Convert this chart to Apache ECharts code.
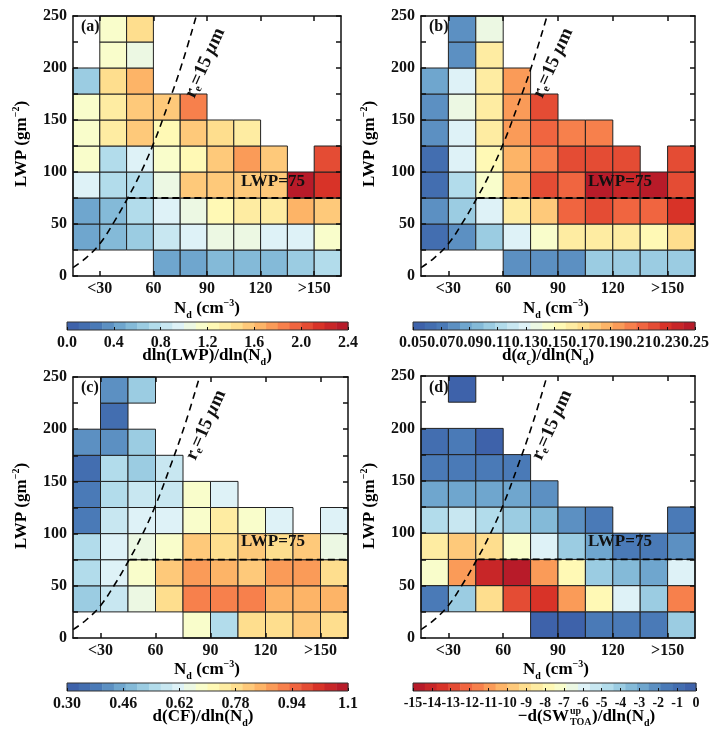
<!DOCTYPE html>
<html><head><meta charset="utf-8">
<script src="https://cdn.jsdelivr.net/npm/echarts@6/dist/echarts.min.js"></script>
<style>html,body{margin:0;padding:0;background:#fff}#chart{width:712px;height:732px}</style>
</head><body><div id="chart"></div>
<script>
// ---------- data ----------
const ndEdges = [15, 30, 45, 60, 75, 90, 105, 120, 135, 150, 165];
const lwpEdges = [0, 25, 50, 75, 100, 125, 150, 175, 200, 225, 250];
const xTickValues = [30, 60, 90, 120, 150];
const xTickLabels = ['<30', '60', '90', '120', '>150'];
const yTickValues = [0, 50, 100, 150, 200, 250];

// rows: LWP 0-25 (first) ... 225-250 (last); columns: Nd bins
const valuesA = [
  [null, null, null, 0.48, 0.48, 0.50, 0.55, 0.55, 0.65, 0.70],
  [0.42, 0.52, 0.60, 0.82, 0.92, 1.02, 1.02, 0.92, 0.92, 1.10],
  [0.42, 0.56, 0.70, 0.90, 1.08, 1.20, 1.38, 1.38, 1.62, 1.58],
  [0.92, 0.72, 0.72, 1.08, 1.50, 1.50, 1.58, 1.58, 2.38, 2.18],
  [1.10, 0.72, 0.92, 1.10, 1.20, 1.58, 1.70, 1.58, null, 2.05],
  [1.10, 1.30, 1.50, 1.20, 1.50, 1.40, 1.30, null, null, null],
  [1.10, 1.30, 1.50, 1.50, 1.80, null, null, null, null, null],
  [0.60, 1.42, 1.60, null, null, null, null, null, null, null],
  [null, 1.10, 1.00, null, null, null, null, null, null, null],
  [null, 1.10, 1.42, null, null, null, null, null, null, null]
];
const valuesB = [
  [null, null, null, 0.078, 0.078, 0.078, 0.100, 0.100, 0.107, 0.108],
  [0.066, 0.078, 0.104, 0.128, 0.145, 0.165, 0.165, 0.165, 0.158, 0.175],
  [0.078, 0.100, 0.130, 0.165, 0.182, 0.210, 0.218, 0.212, 0.215, 0.232],
  [0.066, 0.112, 0.145, 0.185, 0.218, 0.212, 0.244, 0.240, 0.244, 0.220],
  [0.064, 0.130, 0.152, 0.185, 0.200, 0.220, 0.220, 0.220, null, 0.220],
  [0.076, 0.130, 0.165, 0.192, 0.210, 0.202, 0.202, null, null, null],
  [0.076, 0.138, 0.165, 0.192, 0.222, null, null, null, null, null],
  [0.090, 0.130, 0.165, 0.192, null, null, null, null, null, null],
  [null, 0.076, 0.165, null, null, null, null, null, null, null],
  [null, 0.076, 0.140, null, null, null, null, null, null, null]
];
const valuesC = [
  [null, null, null, null, 0.70, 0.54, 0.77, 0.78, 0.80, 0.77],
  [0.50, 0.59, 0.66, 0.79, 0.90, 0.93, 0.93, 0.86, 0.86, 0.86],
  [0.55, 0.63, 0.70, 0.83, 0.89, 0.85, 0.83, 0.89, 0.89, 0.77],
  [0.55, 0.63, 0.66, 0.70, 0.81, 0.78, 0.81, 0.77, 0.82, 0.66],
  [0.37, 0.58, 0.63, 0.62, 0.70, 0.76, 0.70, 0.63, null, 0.63],
  [0.37, 0.55, 0.58, 0.60, 0.70, 0.63, null, null, null, null],
  [0.34, 0.55, 0.53, 0.60, null, null, null, null, null, null],
  [0.43, 0.43, 0.50, null, null, null, null, null, null, null],
  [null, 0.35, null, null, null, null, null, null, null, null],
  [null, 0.43, 0.50, null, null, null, null, null, null, null]
];
const valuesD = [
  [null, null, null, null, -0.6, -0.4, -1.3, -1.3, -1.3, -4.2],
  [-1.3, -4.0, -8.8, -12.8, -13.6, -11.2, -8.0, -5.8, -3.9, -11.8],
  [-7.0, -11.2, -14.3, -14.9, -11.1, -7.6, -4.2, -3.3, -2.9, -6.0],
  [-8.7, -9.8, -8.9, -6.9, -5.8, -3.9, -2.6, -1.6, -1.3, -2.0],
  [-4.5, -5.4, -4.5, -4.2, -3.5, -2.1, -1.3, null, null, -1.3],
  [-2.6, -2.7, -2.7, -2.7, -1.9, null, null, null, null, null],
  [-1.3, -1.7, -1.7, -1.3, null, null, null, null, null, null],
  [-0.8, -1.3, -0.6, null, null, null, null, null, null, null],
  [null, null, null, null, null, null, null, null, null, null],
  [null, -0.6, null, null, null, null, null, null, null, null]
];

// colour-bar ticks
const cbTicksA = [0.0, 0.4, 0.8, 1.2, 1.6, 2.0, 2.4];
const cbLabelsA = ['0.0', '0.4', '0.8', '1.2', '1.6', '2.0', '2.4'];
const cbTicksB = [0.05, 0.07, 0.09, 0.11, 0.13, 0.15, 0.17, 0.19, 0.21, 0.23, 0.25];
const cbLabelsB = ['0.05', '0.07', '0.09', '0.11', '0.13', '0.15', '0.17', '0.19', '0.21', '0.23', '0.25'];
const cbTicksC = [0.30, 0.46, 0.62, 0.78, 0.94, 1.10];
const cbLabelsC = ['0.30', '0.46', '0.62', '0.78', '0.94', '1.1'];
const cbTicksD = [-15, -14, -13, -12, -11, -10, -9, -8, -7, -6, -5, -4, -3, -2, -1, 0];
const cbLabelsD = ['-15', '-14', '-13', '-12', '-11', '-10', '-9', '-8', '-7', '-6', '-5', '-4', '-3', '-2', '-1', '0'];

// r_e = 15 um curve and LWP = 75 line
const reCurve = [[15, 8], [22, 17], [30, 31], [38, 52], [45, 73], [52, 96], [60, 127], [68, 164], [76, 204], [84, 250]];
const lwpLine = [[46, 75], [165, 75]];

// ---------- styling ----------
const FONT = '"Liberation Serif", "Times New Roman", serif';
const INK = '#111';
const ANCHORS = ['#3b5ca7', '#4878b6', '#74add1', '#abd9e9', '#e0f3f8', '#ffffbf', '#fee090', '#fdae61', '#f46d43', '#d73027', '#b0152a'];
const NLEV = 24;

function hex2rgb(h) { return [1, 3, 5].map(i => parseInt(h.substr(i, 2), 16)); }
function cmap(p) {
  const s = Math.max(0, Math.min(1, p)) * (ANCHORS.length - 1);
  const i = Math.min(ANCHORS.length - 2, Math.floor(s)), f = s - i;
  const a = hex2rgb(ANCHORS[i]), b = hex2rgb(ANCHORS[i + 1]);
  return 'rgb(' + a.map((v, k) => Math.round(v + (b[k] - v) * f)).join(',') + ')';
}

const panels = [
  { tag: '(a)', values: valuesA, min: 0, max: 2.4, rev: false, ticks: cbTicksA, labels: cbLabelsA,
    grid: { left: 73, top: 16, width: 268, height: 260 }, cb: { left: 67, top: 322, width: 281, height: 8 },
    tagPos: [81, 27], rePos: [205, 63], lwpPos: [273, 182], yNamePos: [22, 144], xNamePos: [207, 309], titlePos: [207, 356] },
  { tag: '(b)', values: valuesB, min: 0.05, max: 0.25, rev: false, ticks: cbTicksB, labels: cbLabelsB,
    grid: { left: 421, top: 16, width: 274, height: 260 }, cb: { left: 413, top: 322, width: 283, height: 8 },
    tagPos: [429, 27], rePos: [553, 63], lwpPos: [620, 182], yNamePos: [370, 144], xNamePos: [556, 309], titlePos: [548, 356] },
  { tag: '(c)', values: valuesC, min: 0.30, max: 1.10, rev: false, ticks: cbTicksC, labels: cbLabelsC,
    grid: { left: 73, top: 377, width: 275, height: 261 }, cb: { left: 67, top: 683, width: 281, height: 8 },
    tagPos: [81, 388], rePos: [206, 425], lwpPos: [273, 542], yNamePos: [22, 506], xNamePos: [207, 670], titlePos: [203, 717] },
  { tag: '(d)', values: valuesD, min: -15, max: 0, rev: true, ticks: cbTicksD, labels: cbLabelsD,
    grid: { left: 421, top: 376, width: 274, height: 262 }, cb: { left: 413, top: 683, width: 283, height: 8 },
    tagPos: [429, 388], rePos: [552, 425], lwpPos: [620, 542], yNamePos: [370, 506], xNamePos: [556, 670], titlePos: [582, 717] }
];

function colorFor(pn, v) {
  let t = (v - pn.min) / (pn.max - pn.min);
  if (pn.rev) t = 1 - t;
  const idx = Math.max(0, Math.min(NLEV - 1, Math.floor(t * NLEV)));
  return cmap((idx + 0.5) / NLEV);
}

const mainGrids = [], cbGrids = [], mainX = [], cbX = [], mainY = [], cbY = [], series = [], graphics = [];
const tickLabelStyle = { color: INK, fontFamily: FONT, fontWeight: 'bold', fontSize: 16 };
const NP = panels.length;

panels.forEach((pn, k) => {
  mainGrids.push(Object.assign({ containLabel: false }, pn.grid));
  const axLine = { show: true, onZero: false, lineStyle: { color: INK, width: 1.5 } };
  const tickStyle = { color: INK, width: 1.5 };
  mainX.push({ gridIndex: k, type: 'value', min: 15, max: 165, position: 'bottom', z: 10,
    axisLine: axLine, splitLine: { show: false },
    axisTick: { show: true, inside: true, length: 5, customValues: xTickValues, lineStyle: tickStyle },
    axisLabel: Object.assign({ customValues: xTickValues, margin: 5,
      formatter: v => xTickLabels[xTickValues.indexOf(v)] }, tickLabelStyle) });
  mainX.push({ gridIndex: k, type: 'value', min: 15, max: 165, position: 'top', z: 10,
    axisLine: axLine, splitLine: { show: false },
    axisTick: { show: true, inside: true, length: 5, customValues: xTickValues, lineStyle: tickStyle },
    axisLabel: { show: false } });
  mainY.push({ gridIndex: k, type: 'value', min: 0, max: 250, interval: 25, position: 'left', z: 10,
    axisLine: axLine, splitLine: { show: false },
    axisTick: { show: true, inside: true, length: 5, lineStyle: tickStyle },
    axisLabel: Object.assign({ customValues: yTickValues, margin: 6, formatter: v => String(v) }, tickLabelStyle) });
  mainY.push({ gridIndex: k, type: 'value', min: 0, max: 250, interval: 25, position: 'right', z: 10,
    axisLine: axLine, splitLine: { show: false },
    axisTick: { show: true, inside: true, length: 5, lineStyle: tickStyle },
    axisLabel: { show: false } });

  // cells
  const cells = [];
  pn.values.forEach((row, j) => row.forEach((v, i) => {
    if (v !== null) cells.push([ndEdges[i], ndEdges[i + 1], lwpEdges[j], lwpEdges[j + 1], v]);
  }));
  series.push({ type: 'custom', xAxisIndex: 2 * k, yAxisIndex: 2 * k, z: 2,
    encode: { x: [0, 1], y: [2, 3] }, data: cells,
    renderItem: (params, api) => {
      const p0 = api.coord([api.value(0), api.value(2)]);
      const p1 = api.coord([api.value(1), api.value(3)]);
      return { type: 'rect', shape: { x: p0[0], y: p1[1], width: p1[0] - p0[0], height: p0[1] - p1[1] },
        style: { fill: colorFor(pn, api.value(4)), stroke: '#222', lineWidth: 1 } };
    } });
  series.push({ type: 'line', xAxisIndex: 2 * k, yAxisIndex: 2 * k, z: 5, data: reCurve, smooth: 0.4,
    symbol: 'none', silent: true, lineStyle: { color: '#000', width: 1.6, type: [7, 5] } });
  series.push({ type: 'line', xAxisIndex: 2 * k, yAxisIndex: 2 * k, z: 5, data: lwpLine,
    symbol: 'none', silent: true, lineStyle: { color: '#000', width: 1.8, type: [7, 4] } });

  // colour bar
  const gi = NP + k;
  cbGrids.push(Object.assign({ show: true, borderColor: '#333', borderWidth: 1, z: 10, backgroundColor: 'transparent' }, pn.cb));
  cbX.push({ gridIndex: gi, type: 'value', min: pn.min, max: pn.max, position: 'bottom', z: 11,
    axisLine: { show: false }, splitLine: { show: false },
    axisTick: { show: true, inside: true, length: 3, customValues: pn.ticks, lineStyle: { color: INK, width: 1 } },
    axisLabel: Object.assign({ customValues: pn.ticks, margin: 5, showMinLabel: true, showMaxLabel: true, hideOverlap: false,
      formatter: v => { let best = 0; pn.ticks.forEach((t, q) => { if (Math.abs(t - v) < Math.abs(pn.ticks[best] - v)) best = q; }); return pn.labels[best]; } },
      tickLabelStyle, { fontSize: pn.rev ? 14 : 16 }) });
  cbY.push({ gridIndex: gi, type: 'value', min: 0, max: 1, show: false });
  const segs = [];
  for (let q = 0; q < NLEV; q++) {
    const a = pn.min + (pn.max - pn.min) * q / NLEV, b = pn.min + (pn.max - pn.min) * (q + 1) / NLEV;
    segs.push([a, b, 0, 1, (a + b) / 2]);
  }
  series.push({ type: 'custom', xAxisIndex: 2 * NP + k, yAxisIndex: 2 * NP + k, z: 2, encode: { x: [0, 1], y: [2, 3] }, data: segs,
    renderItem: (params, api) => {
      const p0 = api.coord([api.value(0), api.value(2)]);
      const p1 = api.coord([api.value(1), api.value(3)]);
      return { type: 'rect', shape: { x: p0[0], y: p1[1], width: p1[0] - p0[0] + 0.5, height: p0[1] - p1[1] },
        style: { fill: colorFor(pn, api.value(4)) } };
    } });

  // annotations
  const base = { fontFamily: FONT, fontWeight: 'bold', fill: INK };
  graphics.push({ type: 'text', x: pn.tagPos[0], y: pn.tagPos[1], z: 20,
    style: Object.assign({ text: pn.tag, fontSize: 16, align: 'left', verticalAlign: 'middle', textAlign: 'left', textVerticalAlign: 'middle' }, base) });
  graphics.push({ type: 'text', x: pn.lwpPos[0], y: pn.lwpPos[1], z: 20,
    style: Object.assign({ text: 'LWP=75', fontSize: 17, align: 'center', verticalAlign: 'middle', textAlign: 'center', textVerticalAlign: 'middle' }, base) });
  graphics.push({ type: 'text', x: pn.rePos[0], y: pn.rePos[1], rotation: 66 * Math.PI / 180, z: 20,
    style: Object.assign({ text: '{n|r}{s|e}{n|=15 }{i|μ}{n|m}', align: 'center', verticalAlign: 'middle',
      textAlign: 'center', textVerticalAlign: 'middle',
      rich: { n: Object.assign({ fontSize: 19, lineHeight: 20, verticalAlign: 'middle' }, base, { color: INK }),
              i: Object.assign({ fontSize: 19, lineHeight: 20, fontStyle: 'italic', verticalAlign: 'middle' }, base, { color: INK }),
              s: Object.assign({ fontSize: 11, verticalAlign: 'bottom' }, base, { color: INK }) } }, base) });
  const richAx = {
    n: { fontFamily: FONT, fontWeight: 'bold', fontSize: 17, lineHeight: 22, color: INK, verticalAlign: 'middle' },
    s: { fontFamily: FONT, fontWeight: 'bold', fontSize: 10, color: INK, verticalAlign: 'bottom' },
    p: { fontFamily: FONT, fontWeight: 'bold', fontSize: 10, color: INK, verticalAlign: 'top' },
    i: { fontFamily: FONT, fontWeight: 'bold', fontStyle: 'italic', fontSize: 17, lineHeight: 22, color: INK, verticalAlign: 'middle' }
  };
  graphics.push({ type: 'text', x: pn.yNamePos[0], y: pn.yNamePos[1], rotation: Math.PI / 2, z: 20,
    style: { text: '{n|LWP (gm}{p|−2}{n|)}', rich: richAx, align: 'center', verticalAlign: 'middle', textAlign: 'center', textVerticalAlign: 'middle' } });
  graphics.push({ type: 'text', x: pn.xNamePos[0], y: pn.xNamePos[1], z: 20,
    style: { text: '{n|N}{s|d}{n| (cm}{p|−3}{n|)}', rich: richAx, align: 'center', verticalAlign: 'middle', textAlign: 'center', textVerticalAlign: 'middle' } });
  if (k < 3) {
    const titles = ['{n|dln(LWP)/dln(N}{s|d}{n|)}', '{n|d(}{i|α}{s|c}{n|)/dln(N}{s|d}{n|)}', '{n|d(CF)/dln(N}{s|d}{n|)}'];
    graphics.push({ type: 'text', x: pn.titlePos[0], y: pn.titlePos[1], z: 20,
      style: { text: titles[k], rich: richAx, align: 'center', verticalAlign: 'middle', textAlign: 'center', textVerticalAlign: 'middle' } });
  } else {
    const y = pn.titlePos[1], xs = 569;
    graphics.push({ type: 'text', x: xs, y: y, z: 20,
      style: { text: '{n|−d(SW}', rich: richAx, align: 'right', verticalAlign: 'middle', textAlign: 'right', textVerticalAlign: 'middle' } });
    graphics.push({ type: 'text', x: xs + 1, y: y - 6, z: 20,
      style: { text: 'up', fontFamily: FONT, fontWeight: 'bold', fontSize: 10, fill: INK, align: 'left', verticalAlign: 'middle', textAlign: 'left', textVerticalAlign: 'middle' } });
    graphics.push({ type: 'text', x: xs + 1, y: y + 5, z: 20,
      style: { text: 'TOA', fontFamily: FONT, fontWeight: 'bold', fontSize: 10, fill: INK, align: 'left', verticalAlign: 'middle', textAlign: 'left', textVerticalAlign: 'middle' } });
    graphics.push({ type: 'text', x: xs + 23, y: y, z: 20,
      style: { text: '{n|)/dln(N}{s|d}{n|)}', rich: richAx, align: 'left', verticalAlign: 'middle', textAlign: 'left', textVerticalAlign: 'middle' } });
  }
});

const chart = echarts.init(document.getElementById('chart'), null, { renderer: 'canvas' });
chart.setOption({ animation: false, backgroundColor: '#fff',
  grid: mainGrids.concat(cbGrids), xAxis: mainX.concat(cbX), yAxis: mainY.concat(cbY),
  series: series, graphic: graphics });
</script></body></html>
